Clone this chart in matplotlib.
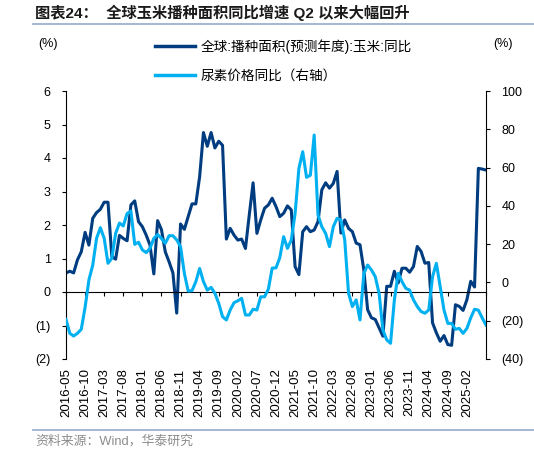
import matplotlib.pyplot as plt
from matplotlib.lines import Line2D

plt.rcParams['font.family'] = ['Liberation Sans', 'Noto Sans CJK SC']

# 月度数据: 2016-05 ~ 2025-07
area_yoy = [0.57, 0.62, 0.57, 0.96, 1.2, 1.78, 1.4, 2.2, 2.37, 2.47,
            2.68, 2.68, 1.06, 0.98, 1.69, 1.6, 1.53, 2.6, 2.72, 2.1,
            1.95, 1.7, 1.4, 0.54, 2.13, 1.86, 1.2, 0.9, 0.57, -0.63,
            2.03, 1.87, 2.25, 2.63, 2.63, 3.44, 4.76, 4.35, 4.76, 4.3,
            4.5, 4.38, 1.58, 1.9, 1.7, 1.55, 1.58, 1.3, 2.3, 3.26,
            1.75, 2.15, 2.5, 2.6, 2.8, 2.55, 2.25, 2.35, 2.57, 2.45,
            0.76, 0.52, 1.8, 1.95, 1.8, 1.85, 2.1, 3.05, 3.26, 3.1,
            3.24, 3.6, 1.76, 2.15, 1.9, 1.8, 1.46, 1.41, 0.66, -0.53,
            -0.77, -0.82, -1.07, -1.32, 0.17, 0.17, 0.62, 0.27, 0.71, 0.71,
            0.59, 0.76, 1.36, 1.21, 0.86, 0.88, -0.92, -1.22, -1.47, -1.3,
            -1.57, -1.59, -0.38, -0.43, -0.55, -0.23, 0.32, 0.15, 3.69, 3.67,
            3.64]

urea_yoy = [-19.3, -26.6, -28, -26.6, -24.5, -13, 1.3, 9, 23, 28.6,
            23, 10, 12.6, 25.6, 31, 29.5, 36, 37.3, 19.9, 21,
            17, 15.6, 17.8, 23, 25, 23, 20.4, 24.4, 24.4, 22.2,
            18.7, 4.7, -4.5, -4.3, 0.4, 7.3, 0.4, -4, -2.6, -5.7,
            -10.9, -17.9, -19.6, -14.4, -10.6, -9.6, -8.3, -17, -17, -14,
            -14.4, -7.5, -7.5, -3.5, 7.5, 7.6, 13, 23.9, 17.8, 22.1,
            36, 59.6, 68.3, 54.9, 56, 77, 35.2, 29.1, 25.6, 18.7,
            29.1, 33.5, 32.6, 22.2, -5.7, -12.6, -9.1, -19.6, 4.7, 9.1,
            6.5, 3, -5.7, -24.9, -30, -31.8, -9.1, 4.7, 0.4, -3.1,
            -4, -9.1, -12.6, -15.2, -16.1, -14.4, 3, 10, -2.2, -14.4,
            -21.4, -21.4, -24.5, -24, -26.6, -24, -18.5, -14, -14.5, -18.5,
            -22.3]

tick_labels = ['2016-05', '2016-10', '2017-03', '2017-08', '2018-01', '2018-06',
               '2018-11', '2019-04', '2019-09', '2020-02', '2020-07', '2020-12',
               '2021-05', '2021-10', '2022-03', '2022-08', '2023-01', '2023-06',
               '2023-11', '2024-04', '2024-09', '2025-02', '']

left_ticks = [-2, -1, 0, 1, 2, 3, 4, 5, 6]
right_ticks = [-40, -20, 0, 20, 40, 60, 80, 100]

dark = '#003C80'
light = '#00B0F0'

fig = plt.figure(figsize=(5.34, 4.55), dpi=100)
ax = fig.add_axes([66 / 534, 1 - 359 / 455, 420 / 534, 268 / 455])
ax2 = ax.twinx()

x = list(range(len(area_yoy)))
ax.plot(x, area_yoy, color=dark, lw=2.2)
ax2.plot(x, urea_yoy, color=light, lw=2.2)

ax.set_xlim(0, len(area_yoy) - 1)
ax.set_ylim(-2, 6)
ax2.set_ylim(-40, 100)

ax.set_yticks(left_ticks)
ax.set_yticklabels(['(2)', '(1)', '0', '1', '2', '3', '4', '5', '6'])
ax2.set_yticks(right_ticks)
ax2.set_yticklabels(['(40)', '(20)', '0', '20', '40', '60', '80', '100'])

ax.set_xticks(range(0, len(area_yoy), 5))
ax.set_xticklabels(tick_labels)

for a in (ax, ax2):
    a.spines['top'].set_visible(False)
    a.patch.set_visible(False)
ax.spines['right'].set_visible(False)
ax2.spines['left'].set_visible(False)
ax2.spines['bottom'].set_visible(False)
ax.spines['bottom'].set_position(('data', 0))
for s in ('left', 'bottom'):
    ax.spines[s].set_linewidth(0.8)
ax2.spines['right'].set_linewidth(0.8)

ax.tick_params(axis='y', direction='out', length=3, width=0.8, pad=8, labelsize=9)
ax2.tick_params(axis='y', direction='out', length=3, width=0.8, pad=8, labelsize=9)
ax.tick_params(axis='x', direction='out', length=3, width=0.8, pad=52,
               labelsize=9.5, labelrotation=90)

# 标题与说明
fig.text(35 / 534, 1 - 13 / 455, '图表24：  全球玉米播种面积同比增速 Q2 以来大幅回升',
         fontsize=11, fontweight='bold', va='center', ha='left', color='#1a1a1a')
fig.add_artist(Line2D([33 / 534, 1], [1 - 24 / 455] * 2, color='#9DB2CE', lw=1.3))
fig.add_artist(Line2D([33 / 534, 1], [1 - 430 / 455] * 2, color='#9DB2CE', lw=1.3))
fig.text(35 / 534, 1 - 441 / 455, '资料来源：Wind，华泰研究', fontsize=9.3,
         color='#8c8c8c', va='center', ha='left')

fig.text(48 / 534, 1 - 44 / 455, '(%)', fontsize=9, ha='center', va='center')
fig.text(503 / 534, 1 - 44 / 455, '(%)', fontsize=9, ha='center', va='center')

handles = [Line2D([], [], color=dark, lw=2.5), Line2D([], [], color=light, lw=2.5)]
labels = ['全球:播种面积(预测年度):玉米:同比', '尿素价格同比（右轴）']
fig.legend(handles, labels, loc='upper left', bbox_to_anchor=(150 / 534, 1 - 34 / 455),
           frameon=False, fontsize=9.8, handlelength=2.9, handletextpad=0.4,
           labelspacing=1.1, borderaxespad=0)

fig.savefig('out.png', dpi=100)
